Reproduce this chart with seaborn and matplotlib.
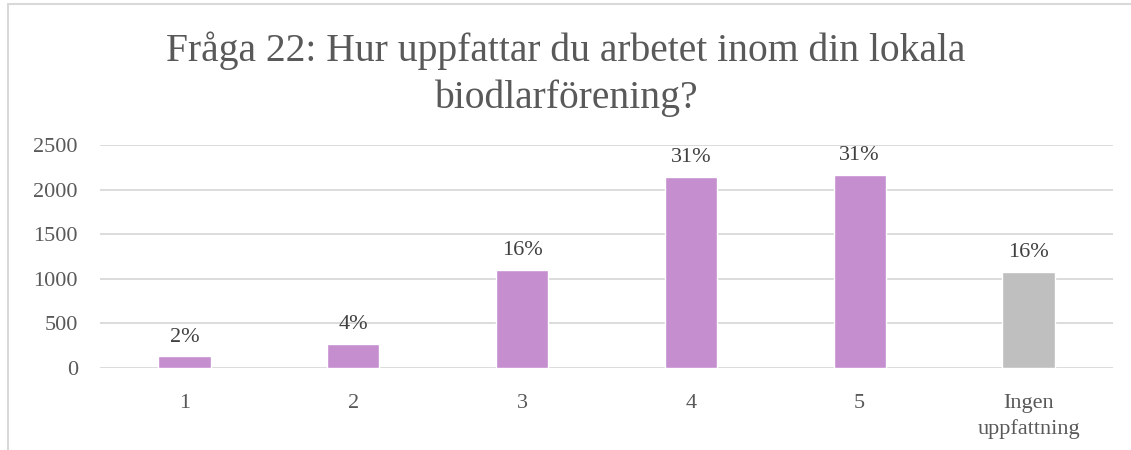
import matplotlib.pyplot as plt
import pandas as pd
import seaborn as sns
from matplotlib.lines import Line2D

# ==========================
# DADOS
# ==========================

categorias = ["1", "2", "3", "4", "5", "Ingen\nuppfattning"]
antal = [130, 270, 1100, 2140, 2165, 1075]
procent = ["2%", "4%", "16%", "31%", "31%", "16%"]
farger = ["#c58fcf", "#c58fcf", "#c58fcf", "#c58fcf", "#c58fcf", "#bfbfbf"]

TITEL = "Fråga 22: Hur uppfattar du arbetet inom din lokala\nbiodlarförening?"
TEXTFARG = "#595959"

# ==========================
# FIGUR
# ==========================

sns.set_style("white")
plt.rcParams["font.family"] = ["Liberation Serif", "DejaVu Serif"]

df = pd.DataFrame({"kategori": categorias, "antal": antal})

fig = plt.figure(figsize=(11.31, 4.5), dpi=100)
ax = fig.add_axes([0.0884, 0.182, 0.8956, 0.496])

sns.barplot(
    data=df,
    x="kategori",
    y="antal",
    hue="kategori",
    palette=farger,
    legend=False,
    width=0.31,
    saturation=1,
    ax=ax,
)

ax.set_ylim(0, 2500)
ax.set_xlim(-0.5, 5.5)
ax.set_yticks(range(0, 2501, 500))
ax.yaxis.grid(True, color="#d9d9d9", linewidth=1.3)
ax.set_axisbelow(True)
sns.despine(ax=ax, left=True, bottom=True, top=True, right=True)

ax.set_xlabel("")
ax.set_ylabel("")
ax.tick_params(axis="both", length=0, labelsize=16, labelcolor=TEXTFARG)
ax.tick_params(axis="x", pad=19)
ax.tick_params(axis="y", pad=16)
for lbl in ax.get_xticklabels():
    lbl.set_linespacing(1.35)

# etiketter ovanför staplarna
for patch, text in zip(ax.patches, procent):
    ax.annotate(
        text,
        (patch.get_x() + patch.get_width() / 2, patch.get_height()),
        xytext=(0, 7),
        textcoords="offset points",
        ha="center",
        va="bottom",
        fontsize=16,
        color="#404040",
    )

fig.text(
    0.5,
    0.835,
    TITEL,
    ha="center",
    va="center",
    fontsize=28.5,
    color=TEXTFARG,
    linespacing=1.32,
)

# ram runt diagrammet
fig.add_artist(Line2D([8 / 1131, 8 / 1131], [0, 1 - 4 / 450],
                      transform=fig.transFigure, color="#d9d9d9", lw=1.5))
fig.add_artist(Line2D([8 / 1131, 1], [1 - 4 / 450, 1 - 4 / 450],
                      transform=fig.transFigure, color="#d9d9d9", lw=1.5))

fig.savefig("out.png", dpi=100)
